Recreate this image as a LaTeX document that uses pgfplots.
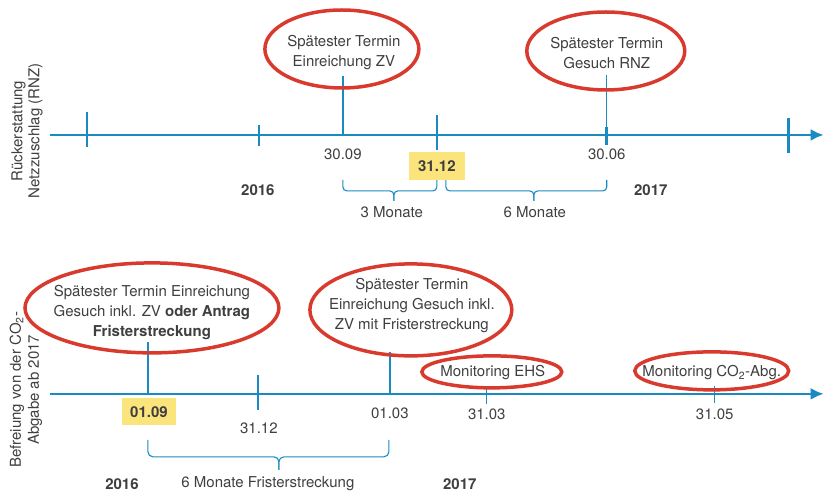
\documentclass[border=0pt]{standalone}
\usepackage{pgfplots}
\pgfplotsset{compat=1.18}
\usepackage{fontspec}
\setmainfont{TeX Gyre Heros}
\usetikzlibrary{arrows.meta}
\definecolor{tlblue}{HTML}{1A8AC2}
\definecolor{ellred}{HTML}{D93A2E}
\definecolor{boxyel}{HTML}{FBE47C}
\definecolor{txt}{HTML}{3F3F3F}
\begin{document}
\begin{tikzpicture}[every node/.style={text=txt, font=\fontsize{15}{20}\selectfont}]
\begin{axis}[scale only axis, width=825pt, height=495pt,
  xmin=0, xmax=825, ymin=0, ymax=495, y dir=reverse,
  hide axis, clip=false]
\addplot[draw=none] coordinates {(0,0) (825,495)};
% ---------- top timeline ----------
\addplot[tlblue, line width=2.6pt, -{Latex[length=13pt,width=12pt]}] coordinates {(50,135) (824,135)};
\addplot[tlblue, line width=2.6pt] coordinates {(87,112) (87,147)};
\addplot[tlblue, line width=2.6pt] coordinates {(259,125) (259,146)};
\addplot[tlblue, line width=2.6pt] coordinates {(437,115) (437,150)};
\addplot[tlblue, line width=2.6pt] coordinates {(607,127) (607,145)};
\addplot[tlblue, line width=2.6pt] coordinates {(789,118) (789,153)};
\addplot[tlblue, line width=1.3pt] coordinates {(343,76) (343,135)};
\addplot[tlblue, line width=1.3pt] coordinates {(607,75) (607,135)};
% brackets top
\addplot[tlblue, line width=1.1pt, rounded corners=4pt] coordinates {(343,180) (343,191) (394,191) (394,201)};
\addplot[tlblue, line width=1.1pt, rounded corners=4pt] coordinates {(437,180) (437,191) (394,191) (394,201)};
\addplot[tlblue, line width=1.1pt, rounded corners=4pt] coordinates {(446,180) (446,191) (534,191) (534,201)};
\addplot[tlblue, line width=1.1pt, rounded corners=4pt] coordinates {(607,180) (607,191) (534,191) (534,201)};
% ellipses top
\draw[ellred, line width=3.5pt] (axis cs:342,49) ellipse [x radius=77, y radius=39];
\draw[ellred, line width=3.5pt] (axis cs:606,51) ellipse [x radius=79, y radius=39];
\node[align=center] at (axis cs:344,53) {Spätester Termin\\Einreichung ZV};
\node[align=center] at (axis cs:607,53) {Spätester Termin\\Gesuch RNZ};
% labels top
\node at (axis cs:343,154) {30.09};
\node at (axis cs:607,154) {30.06};
\node[fill=boxyel, minimum width=56pt, minimum height=28pt, inner sep=0pt, font=\fontsize{15}{20}\selectfont\bfseries] at (axis cs:437,166) {31.12};
\node[font=\fontsize{15}{20}\selectfont\bfseries] at (axis cs:258,190) {2016};
\node[font=\fontsize{15}{20}\selectfont\bfseries] at (axis cs:651,190) {2017};
\node at (axis cs:392,212) {3 Monate};
\node at (axis cs:535,212) {6 Monate};
\node[rotate=90, align=center, font=\fontsize{15}{17}\selectfont] at (axis cs:27,131) {Rückerstattung\\Netzzuschlag (RNZ)};
% ---------- bottom timeline ----------
\addplot[tlblue, line width=2.6pt, -{Latex[length=13pt,width=12pt]}] coordinates {(50,394) (824,394)};
\addplot[tlblue, line width=2.6pt] coordinates {(258,375) (258,410)};
\addplot[tlblue, line width=1.3pt] coordinates {(148,342) (148,394)};
\addplot[tlblue, line width=1.3pt] coordinates {(390,352) (390,394)};
\addplot[tlblue, line width=1.3pt] coordinates {(487,388) (487,404)};
\addplot[tlblue, line width=1.3pt] coordinates {(715,386) (715,403)};
% bracket bottom
\addplot[tlblue, line width=1.1pt, rounded corners=5pt] coordinates {(148,440) (148,457) (279,457) (279,470)};
\addplot[tlblue, line width=1.1pt, rounded corners=5pt] coordinates {(389,440) (389,457) (279,457) (279,470)};
% ellipses bottom
\draw[ellred, line width=3.5pt] (axis cs:152,308) ellipse [x radius=127, y radius=45];
\draw[ellred, line width=3.5pt] (axis cs:411,310) ellipse [x radius=101, y radius=46];
\draw[ellred, line width=3.5pt] (axis cs:492,372) ellipse [x radius=70, y radius=16];
\draw[ellred, line width=3.5pt] (axis cs:712,371) ellipse [x radius=77, y radius=19];
\node[align=center] at (axis cs:152,313) {Spätester Termin Einreichung\\Gesuch inkl. ZV \textbf{oder Antrag}\\\textbf{Fristerstreckung}};
\node[align=center] at (axis cs:412,306) {Spätester Termin\\Einreichung Gesuch inkl.\\ZV mit Fristerstreckung};
\node at (axis cs:493,373) {Monitoring EHS};
\node at (axis cs:712,373) {Monitoring CO\textsubscript{2}-Abg.};
% labels bottom
\node[fill=boxyel, minimum width=54pt, minimum height=27pt, inner sep=0pt, font=\fontsize{15}{20}\selectfont\bfseries] at (axis cs:149,412) {01.09};
\node at (axis cs:259,428) {31.12};
\node at (axis cs:390,413) {01.03};
\node at (axis cs:487,414) {31.03};
\node at (axis cs:715,414) {31.05};
\node[font=\fontsize{15}{20}\selectfont\bfseries] at (axis cs:122,484) {2016};
\node[font=\fontsize{15}{20}\selectfont\bfseries] at (axis cs:460,484) {2017};
\node at (axis cs:268,484) {6 Monate Fristerstreckung};
\node[rotate=90, align=center, font=\fontsize{15}{18}\selectfont] at (axis cs:26,390) {Befreiung von der CO\textsubscript{2}-\\Abgabe ab 2017};
\end{axis}
\end{tikzpicture}
\end{document}
